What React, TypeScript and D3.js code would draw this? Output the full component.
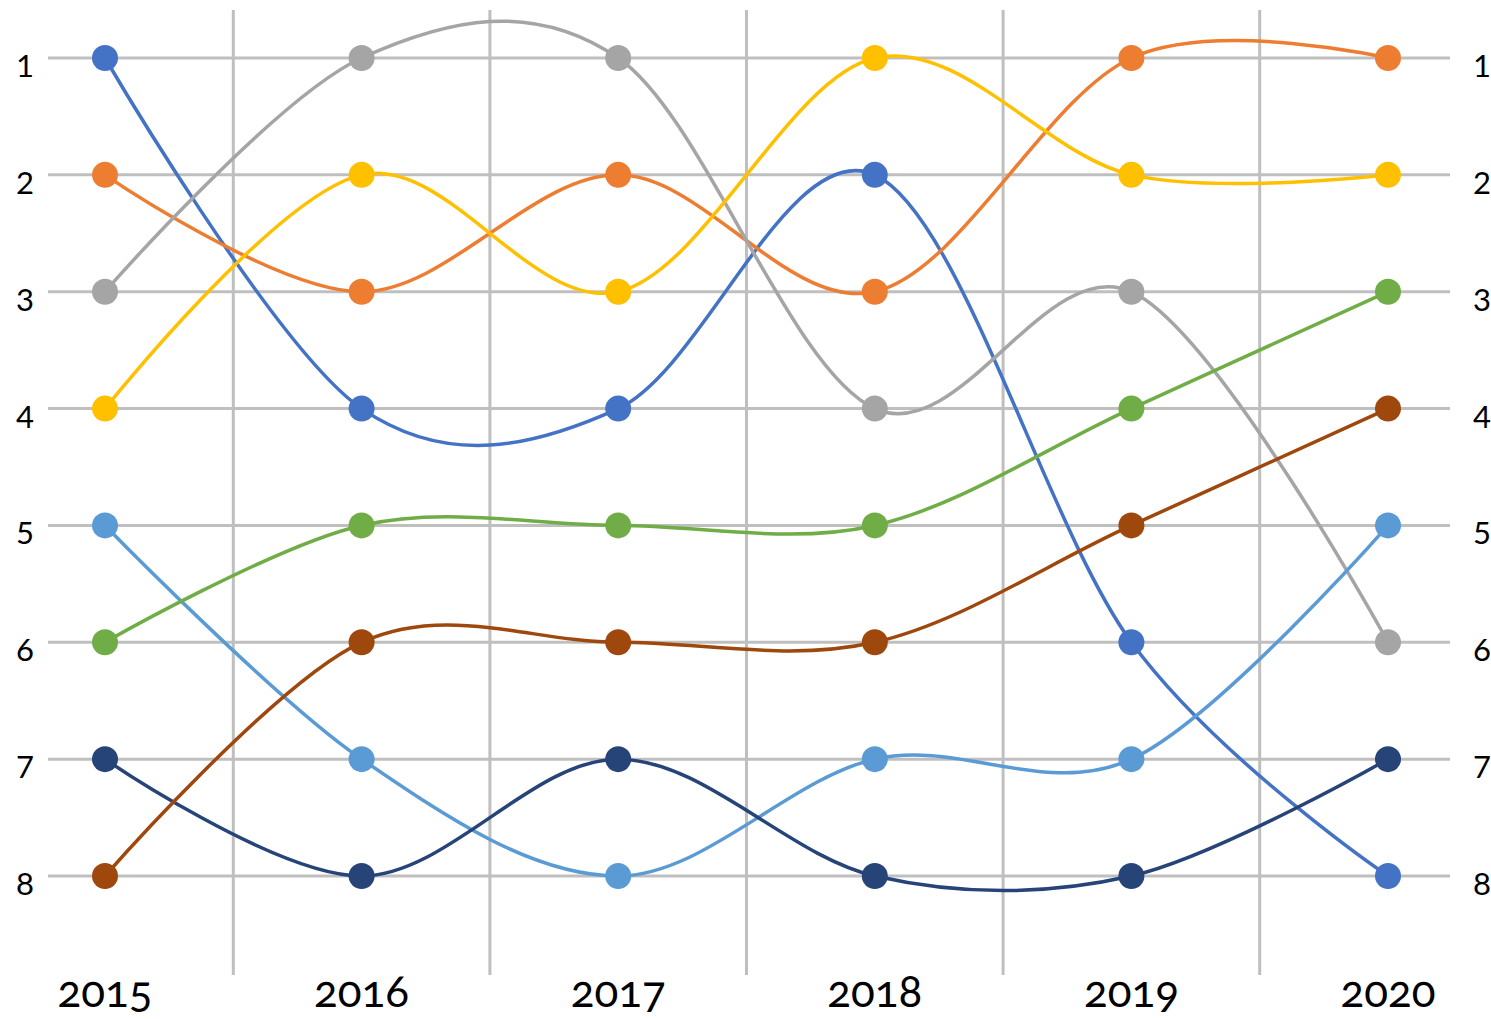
import React from "react";
import * as d3 from "d3";

const years = ["2015", "2016", "2017", "2018", "2019", "2020"];
const rankTicks = [1, 2, 3, 4, 5, 6, 7, 8];

const blueRanks = [1, 4, 4, 2, 6, 8];
const orangeRanks = [2, 3, 2, 3, 1, 1];
const grayRanks = [3, 1, 1, 4, 3, 6];
const yellowRanks = [4, 2, 3, 1, 2, 2];
const lightBlueRanks = [5, 7, 8, 7, 7, 5];
const greenRanks = [6, 5, 5, 5, 4, 3];
const darkBlueRanks = [7, 8, 7, 8, 8, 7];
const brownRanks = [8, 6, 6, 6, 5, 4];

const series = [
  { name: "A", color: "#4472C4", ranks: blueRanks },
  { name: "B", color: "#ED7D31", ranks: orangeRanks },
  { name: "C", color: "#A5A5A5", ranks: grayRanks },
  { name: "D", color: "#FFC000", ranks: yellowRanks },
  { name: "E", color: "#5B9BD5", ranks: lightBlueRanks },
  { name: "F", color: "#70AD47", ranks: greenRanks },
  { name: "G", color: "#264478", ranks: darkBlueRanks },
  { name: "H", color: "#9E480E", ranks: brownRanks },
];

const W = 1491;
const H = 1019;

export default function App() {
  const step = 256.6;
  const x = d3
    .scalePoint<string>()
    .domain(years)
    .range([105, 105 + step * 5]);
  const y = d3.scaleLinear().domain([1, 8]).range([58, 876]);

  // Smoothed rank lines (uniform Catmull-Rom)
  const line = d3
    .line<number>()
    .x((_, i) => x(years[i]) as number)
    .y((d) => y(d))
    .curve(d3.curveCatmullRom.alpha(0));

  const vGrid = years.slice(1).map((yr) => (x(yr) as number) - step / 2);
  const font = "'Lato', 'Open Sans', sans-serif";

  return (
    <svg
      width={W}
      height={H}
      style={{ position: "absolute", left: 0, top: 0, background: "#fff" }}
    >
      <g>
        {vGrid.map((gx, i) => (
          <line key={"v" + i} x1={gx} x2={gx} y1={10} y2={975} stroke="#BFBFBF" strokeWidth={3} />
        ))}
        {rankTicks.map((r) => (
          <line key={"h" + r} x1={48} x2={1450} y1={y(r)} y2={y(r)} stroke="#BFBFBF" strokeWidth={3} />
        ))}
      </g>
      <g>
        {series.map((s) => (
          <path key={s.name} d={line(s.ranks) || ""} fill="none" stroke={s.color} strokeWidth={3.5} />
        ))}
      </g>
      <g>
        {series.map((s) =>
          s.ranks.map((r, i) => (
            <circle key={s.name + i} cx={x(years[i])} cy={y(r)} r={13} fill={s.color} />
          ))
        )}
      </g>
      <g fontFamily={font} fill="#000">
        {rankTicks.map((r) => (
          <g key={"t" + r}>
            <text x={25} y={y(r) + 19} fontSize={31} textAnchor="middle">{r}</text>
            <text x={1482} y={y(r) + 19} fontSize={31} textAnchor="middle">{r}</text>
          </g>
        ))}
        {years.map((yr) => (
          <text
            key={yr}
            x={x(yr)}
            y={1007}
            fontSize={44}
            textAnchor="middle"
            style={{ fontFeatureSettings: "'onum'" }}
          >
            {yr}
          </text>
        ))}
      </g>
    </svg>
  );
}
